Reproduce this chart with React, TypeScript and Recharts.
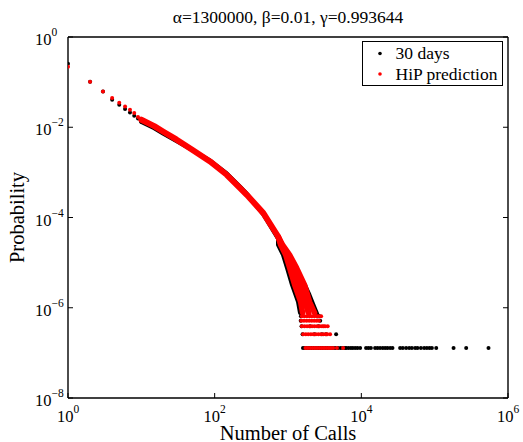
import { ScatterChart, Scatter, XAxis, YAxis, Legend } from 'recharts';

const FONT = 'Liberation Serif, DejaVu Serif, serif';
const BLACK = '#000000';
const RED = '#ff0000';

const chartTitle = 'α=1300000, β=0.01, γ=0.993644';
const xAxisTitle = 'Number of Calls';
const yAxisTitle = 'Probability';
const xTicks = [1, 1e2, 1e4, 1e6];
const yTicks = [1, 1e-2, 1e-4, 1e-6, 1e-8];
const legendItems = [
  { name: '30 days', color: BLACK },
  { name: 'HiP prediction', color: RED },
];

// first few call counts, one dot each
const headX = [1, 2, 3, 4, 5, 6, 7, 8, 9, 10];
const headBlack = [0.256, 0.102, 0.0622, 0.0407, 0.0315, 0.0253, 0.0213, 0.018, 0.0157, 0.0132];
const headRed = [0.219, 0.102, 0.0622, 0.0444, 0.0349, 0.0289, 0.0244, 0.0206, 0.0168, 0.0147];

// dense part of the curve
const bandX = [10, 15, 20, 30, 50, 86.5, 146, 222, 274, 461, 733];
const bandBlack = [0.0132, 0.00955, 0.00724, 0.00501, 0.00309, 0.00182, 0.000944, 0.000479, 0.000335, 0.000117, 3.39e-5];
const bandRed = [0.0147, 0.0106, 0.00794, 0.00537, 0.00313, 0.00175, 0.000885, 0.000449, 0.000318, 0.000125, 3.79e-5];

// the curve spreads out before the lowest counts
const fanY = [2.48e-5, 1.49e-5, 7.67e-6, 3.22e-6, 1.35e-6, 7.71e-7];
const redFanLeftX = [793, 927, 1052, 1231, 1485, 1581];
const redFanMidX = [818, 988, 1175, 1439, 1711, 1910];
const redFanRightX = [844, 1052, 1310, 1683, 1972, 2307];
const blackFanLeftX = [733, 857, 972, 1137, 1374, 1462];
const blackFanRightY = [3.22e-6, 1.94e-6, 1.16e-6, 6.61e-7];
const blackFanRightX = [1683, 1941, 2200, 2535];

// lowest probability levels (1..5 users)
const rowLevels = [1.29e-7, 2.58e-7, 3.87e-7, 5.16e-7, 6.45e-7];
const redRowX = [
  [1730, 1860, 2000, 2150, 2310, 2480, 2670, 2870, 3080, 3310, 3560, 3830, 4120, 4650, 5640],
  [1610, 1750, 1890, 2050, 2220, 2400, 2600, 2820, 3050, 3300, 3420, 3750],
  [1545, 1680, 1820, 1970, 2130, 2300, 2490, 2700, 2900, 3050, 3200, 3480],
  [1520, 1650, 1790, 1940, 2100, 2270, 2450, 2640],
  [1545, 1680, 1820, 1970, 2130, 2300, 2490, 2600, 2830],
];
const blackRowX = [
  [
    1600, 1700, 1820, 1950, 2100, 2250, 2420, 2600, 2800, 3000, 3250, 3500, 3800, 4100, 4400, 4800,
    5200, 5600, 6000, 6200, 6670, 7190, 7650, 8230, 8850, 9630, 11600, 12500, 13500, 15400, 16600,
    18000, 19600, 21100, 22700, 24700, 26600, 33800, 36800, 40800, 44900, 48900, 54200, 58300,
    64900, 71900, 78300, 85000, 91600, 105000, 181000, 269000, 542000,
  ],
  [1580, 2300, 2900, 3300, 4530],
  [1530, 2000, 2600],
  [1490, 2750],
  [1500, 2700],
];

const pts = (xs: number[], ys: number[]) => xs.map((x, i) => ({ x, y: ys[i] }));
const rows = (xs: number[][]) => xs.flatMap((row, i) => row.map((x) => ({ x, y: rowLevels[i] })));

const blackHead = pts(headX, headBlack);
const redHead = pts(headX, headRed);
const blackBand = [...pts(bandX, bandBlack), ...pts(blackFanLeftX, fanY)];
const blackFanRight = pts(blackFanRightX, blackFanRightY);
const redBandMain = pts(bandX, bandRed);
const redBandEnd = redBandMain[redBandMain.length - 1];
const redBand = [...redBandMain, ...pts(redFanMidX, fanY)];
const redFanLeft = [redBandEnd, ...pts(redFanLeftX, fanY)];
const redFanRight = [redBandEnd, ...pts(redFanRightX, fanY)];
const blackRows = rows(blackRowX);
const redRows = rows(redRowX);

const supText = (v: number) => {
  const e = Math.round(Math.log10(v));
  return e < 0 ? `−${-e}` : `${e}`;
};

const textStyle = { fontFamily: FONT };

function BottomTick(props: any) {
  const { x, y, payload } = props;
  return (
    <g>
      <line x1={x} y1={y} x2={x} y2={y - 5} stroke={BLACK} />
      <text x={x} y={y + 24} textAnchor="middle" style={textStyle} fontSize={16.5} fill={BLACK}>
        10<tspan dy={-9} fontSize={11.5}>{supText(payload.value)}</tspan>
      </text>
    </g>
  );
}

function LeftTick(props: any) {
  const { x, y, payload } = props;
  return (
    <g>
      <line x1={x} y1={y} x2={x + 5} y2={y} stroke={BLACK} />
      <text x={x - 33} y={y + 8} textAnchor="start" style={textStyle} fontSize={16.5} fill={BLACK}>
        10<tspan dy={-9} fontSize={11.5}>{supText(payload.value)}</tspan>
      </text>
    </g>
  );
}

function TopTick(props: any) {
  const { x, y } = props;
  return <line x1={x} y1={y} x2={x} y2={y + 5} stroke={BLACK} />;
}

function RightTick(props: any) {
  const { x, y } = props;
  return <line x1={x} y1={y} x2={x - 5} y2={y} stroke={BLACK} />;
}

const titleLabel = (props: any) => {
  const { x, y, width } = props.viewBox;
  return (
    <text x={x + width / 2} y={y - 13.5} textAnchor="middle" style={textStyle} fontSize={17.5} fill={BLACK}>
      {chartTitle}
    </text>
  );
};

const xTitleLabel = (props: any) => {
  const { x, y, width } = props.viewBox;
  return (
    <text x={x + width / 2} y={y + 41.5} textAnchor="middle" style={textStyle} fontSize={20.5} fill={BLACK}>
      {xAxisTitle}
    </text>
  );
};

const yTitleLabel = (props: any) => {
  const { x, y, height } = props.viewBox;
  const cx = x + 16;
  const cy = y + height / 2;
  return (
    <text x={cx} y={cy} transform={`rotate(-90, ${cx}, ${cy})`} textAnchor="middle" style={textStyle} fontSize={20.5} fill={BLACK}>
      {yAxisTitle}
    </text>
  );
};

function LegendBox() {
  return (
    <svg width={141} height={45} style={{ display: 'block' }}>
      <rect x={0.5} y={0.5} width={140} height={44} fill="#fff" stroke={BLACK} strokeWidth={1} />
      {legendItems.map((item, i) => (
        <g key={item.name}>
          <circle cx={18} cy={12.5 + i * 20.5} r={1.8} fill={item.color} />
          <text x={33.5} y={18 + i * 21} style={textStyle} fontSize={17.5} fill={BLACK}>
            {item.name}
          </text>
        </g>
      ))}
    </svg>
  );
}

const dot = (color: string) => (props: any) => <circle cx={props.cx} cy={props.cy} r={2} fill={color} />;
const noDot = () => <g />;
const bandLine = (color: string, width: number) => ({
  stroke: color,
  strokeWidth: width,
  strokeLinecap: 'round' as const,
  strokeLinejoin: 'round' as const,
});

export default function App() {
  const axisLine = { stroke: BLACK, strokeWidth: 1.4 };
  return (
    <div style={{ position: 'absolute', left: 0, top: 0, width: 523, height: 442, background: '#fff', fontFamily: FONT }}>
      <ScatterChart width={523} height={442} margin={{ top: 36, right: 14, bottom: 0, left: 8 }}>
        <XAxis
          dataKey="x"
          type="number"
          scale="log"
          domain={[1, 1e6]}
          allowDataOverflow
          ticks={xTicks}
          interval={0}
          height={44}
          tickSize={0}
          tickMargin={0}
          tickLine={false}
          axisLine={axisLine}
          tick={<BottomTick />}
          label={xTitleLabel}
        />
        <XAxis
          xAxisId="top"
          orientation="top"
          type="number"
          scale="log"
          domain={[1, 1e6]}
          allowDataOverflow
          ticks={xTicks}
          interval={0}
          height={1}
          tickSize={0}
          tickMargin={0}
          tickLine={false}
          axisLine={axisLine}
          tick={<TopTick />}
          label={titleLabel}
        />
        <YAxis
          dataKey="y"
          type="number"
          scale="log"
          domain={[1e-8, 1]}
          allowDataOverflow
          ticks={yTicks}
          interval={0}
          width={60}
          tickSize={0}
          tickMargin={0}
          tickLine={false}
          axisLine={axisLine}
          tick={<LeftTick />}
          label={yTitleLabel}
        />
        <YAxis
          yAxisId="right"
          orientation="right"
          type="number"
          scale="log"
          domain={[1e-8, 1]}
          allowDataOverflow
          ticks={yTicks}
          interval={0}
          width={1}
          tickSize={0}
          tickMargin={0}
          tickLine={false}
          axisLine={axisLine}
          tick={<RightTick />}
        />
        <Legend
          layout="vertical"
          align="center"
          verticalAlign="middle"
          wrapperStyle={{ left: 362, top: 41, width: 141, height: 45 }}
          content={() => <LegendBox />}
        />

        <Scatter data={blackBand} fill={BLACK} line={bandLine(BLACK, 4.2)} shape={noDot} isAnimationActive={false} />
        <Scatter data={blackFanRight} fill={BLACK} line={bandLine(BLACK, 4.6)} shape={noDot} isAnimationActive={false} />
        <Scatter data={blackHead} fill={BLACK} shape={dot(BLACK)} isAnimationActive={false} />
        <Scatter data={blackRows} fill={BLACK} shape={dot(BLACK)} isAnimationActive={false} />

        <Scatter data={redBand} fill={RED} line={bandLine(RED, 6)} shape={noDot} isAnimationActive={false} />
        <Scatter data={redFanLeft} fill={RED} line={bandLine(RED, 5.5)} shape={noDot} isAnimationActive={false} />
        <Scatter data={redFanRight} fill={RED} line={bandLine(RED, 5.5)} shape={noDot} isAnimationActive={false} />
        <Scatter data={redHead} fill={RED} shape={dot(RED)} isAnimationActive={false} />
        <Scatter data={redRows} fill={RED} shape={dot(RED)} isAnimationActive={false} />
      </ScatterChart>
    </div>
  );
}
